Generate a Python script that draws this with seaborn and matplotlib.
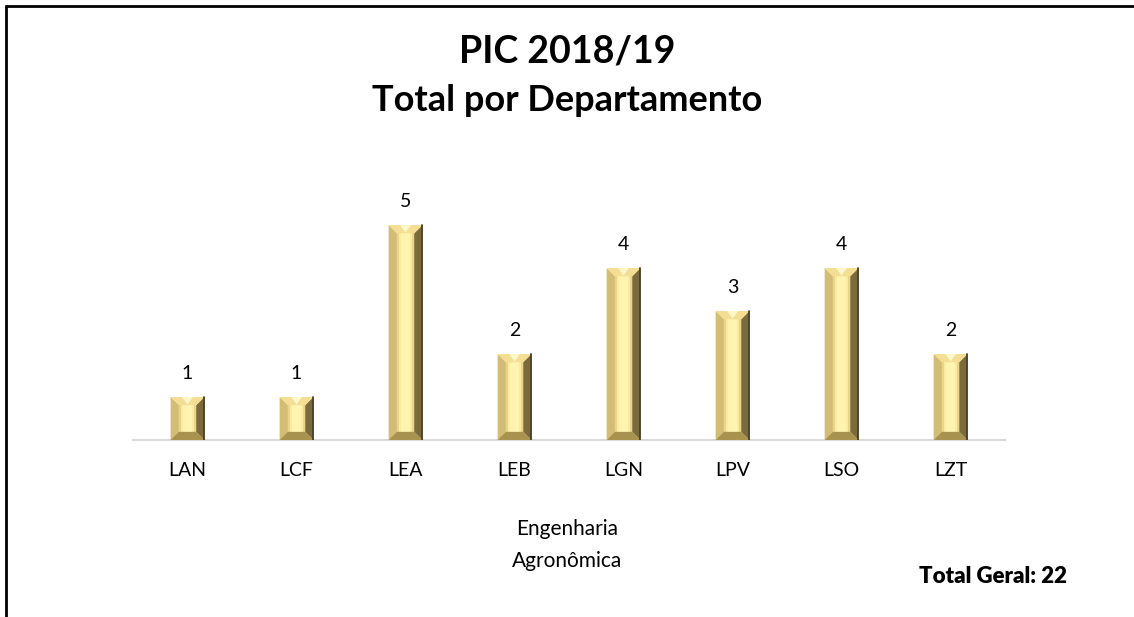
import numpy as np
import pandas as pd
import seaborn as sns
from matplotlib import pyplot as plt
from matplotlib.patches import Polygon

departamentos = ['LAN', 'LCF', 'LEA', 'LEB', 'LGN', 'LPV', 'LSO', 'LZT']
totais = [1, 1, 5, 2, 4, 3, 4, 2]
curso = 'Engenharia\nAgronômica'
total_geral = 22

sns.set_style('white')
plt.rcParams['font.family'] = ['Lato', 'DejaVu Sans']
plt.rcParams['text.color'] = 'black'
plt.rcParams['xtick.color'] = 'black'

df = pd.DataFrame({'dep': departamentos, 'total': totais})

fig = plt.figure(figsize=(11.34, 6.17), dpi=100)
ax = fig.add_axes([0.1173, 0.2869, 0.769, 0.383])

sns.barplot(data=df, x='dep', y='total', color='#F6E49C', width=0.31,
            saturation=1, ax=ax, zorder=2)
ax.set_ylim(0, 5.5)
ax.set_xlim(-0.5, len(departamentos) - 0.5)

# bevel effect on each bar
bx = 0.075
by = 0.19
for p in ax.patches:
    x0, y0 = p.get_x(), p.get_y()
    w, h = p.get_width(), p.get_height()
    x1, y1 = x0 + w, y0 + h
    xm = x0 + w / 2
    p.set_edgecolor('none')
    # face: tan on the left, light in the middle, darker on the right
    ax.add_patch(plt.Rectangle((x0 + bx, y0 + by), w - 2 * bx, h - 2 * by,
                               fc='#E9D48A', ec='none', zorder=3))
    ax.add_patch(plt.Rectangle((x0 + bx + 0.02, y0 + by), w - 2 * bx - 0.04, h - 2 * by,
                               fc='#FBEBA2', ec='none', zorder=3))
    ax.add_patch(plt.Rectangle((x0 + bx + 0.04, y0 + by), w - 2 * bx - 0.08, h - 2 * by,
                               fc='#FFF3B0', ec='none', zorder=3))
    # bevels
    ax.add_patch(Polygon([(x0, y0), (x0 + bx, y0 + by), (x0 + bx, y1 - by), (x0, y1)],
                         closed=True, fc='#D2BC76', ec='none', zorder=3))
    ax.add_patch(Polygon([(x1, y0), (x1 - bx, y0 + by), (x1 - bx, y1 - by), (x1, y1)],
                         closed=True, fc='#7A6A3C', ec='none', zorder=3))
    ax.add_patch(Polygon([(x0, y1), (x1, y1), (x1 - bx, y1 - by), (x0 + bx, y1 - by)],
                         closed=True, fc='#F3DE94', ec='none', zorder=3))
    ax.add_patch(Polygon([(xm - 0.05, y1), (xm + 0.05, y1), (xm, y1 - by * 0.9)],
                         closed=True, fc='#FFF7CC', ec='none', zorder=3))
    ax.add_patch(Polygon([(x0, y0), (x1, y0), (x1 - bx, y0 + by), (x0 + bx, y0 + by)],
                         closed=True, fc='#A8924F', ec='none', zorder=3))
    ax.plot([x1, x1], [y0, y1], color='#4A4026', lw=1.3, zorder=4)

for c in ax.containers:
    ax.bar_label(c, fontsize=14, padding=11, color='black')

sns.despine(ax=ax, left=True, top=True, right=True)
ax.spines['bottom'].set_color('#D9D9D9')
ax.spines['bottom'].set_linewidth(1.5)
ax.set_yticks([])
ax.set_xlabel('')
ax.set_ylabel('')
ax.tick_params(axis='x', labelsize=14, pad=16, length=0, labelcolor='black')

fig.text(0.5, 0.917, 'PIC 2018/19', ha='center', va='center', fontsize=27, fontweight='bold')
fig.text(0.5, 0.837, 'Total por Departamento', ha='center', va='center', fontsize=26, fontweight='bold')
fig.text(0.5, 0.1167, curso, ha='center', va='center', fontsize=15, linespacing=1.7)
fig.text(0.876, 0.065, f'Total Geral: {total_geral}', ha='center', va='center',
         fontsize=16, fontweight='heavy')

# frame lines (top and left)
fig.add_artist(plt.Line2D([0.005, 1.0], [0.991, 0.991], color='black', lw=2,
                          transform=fig.transFigure))
fig.add_artist(plt.Line2D([0.0055, 0.0055], [0.0, 0.991], color='black', lw=2,
                          transform=fig.transFigure))

fig.savefig('out.png', dpi=100)
